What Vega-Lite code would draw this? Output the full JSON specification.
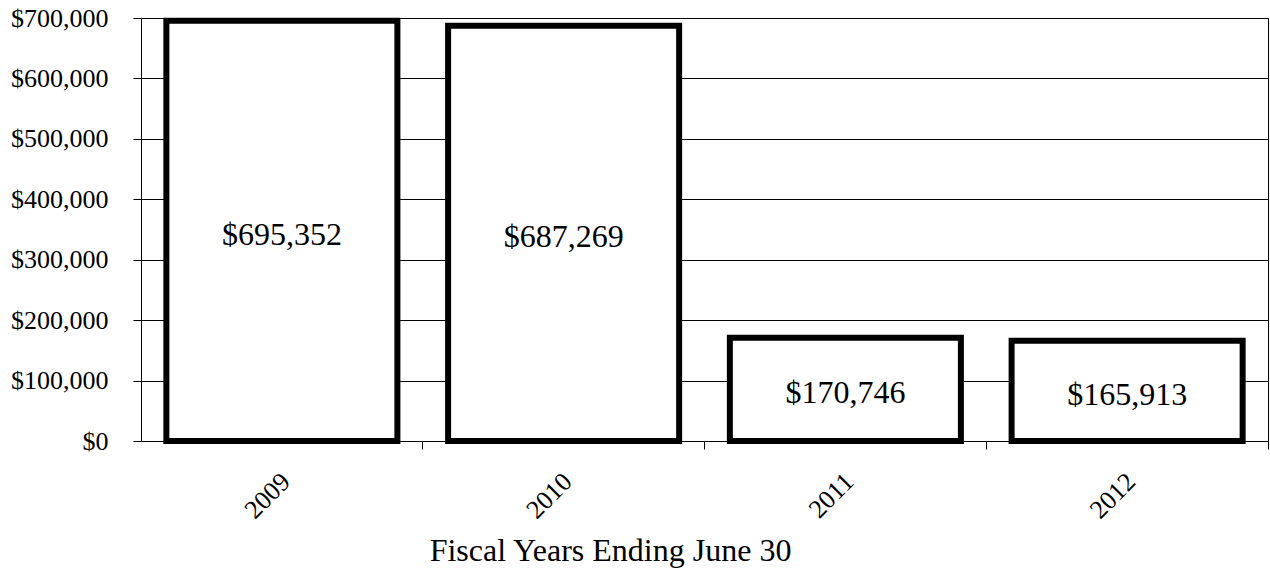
{
  "$schema": "https://vega.github.io/schema/vega-lite/v6.json",
  "autosize": {"type": "none"},
  "width": 1127,
  "height": 423,
  "padding": {"left": 141, "top": 18, "right": 2, "bottom": 137},
  "background": "white",
  "config": {
    "view": {"stroke": "black", "strokeWidth": 1},
    "font": "Liberation Serif"
  },
  "data": {
    "values": [
      {"year": "2009", "amount": 695352},
      {"year": "2010", "amount": 687269},
      {"year": "2011", "amount": 170746},
      {"year": "2012", "amount": 165913}
    ]
  },
  "transform": [{"calculate": "datum.amount / 2", "as": "mid"}],
  "resolve": {"axis": {"x": "independent"}},
  "layer": [
    {
      "mark": {"type": "bar", "fill": "white", "stroke": "black", "strokeWidth": 6, "strokeJoin": "miter"},
      "encoding": {
        "x": {
          "field": "year", "type": "ordinal",
          "scale": {"paddingInner": 0.18, "paddingOuter": 0.09},
          "axis": {
            "orient": "bottom",
            "title": "Fiscal Years Ending June 30",
            "titleFont": "Liberation Serif", "titleFontSize": 32, "titleFontWeight": "normal", "titleColor": "black",
            "titleX": 469, "titleY": 119, "titleBaseline": "alphabetic", "titleAnchor": "middle", "titleAlign": "center",
            "labelAngle": -45, "labelFont": "Liberation Serif", "labelFontSize": 26, "labelColor": "black",
            "labelPadding": 27, "labelOffset": -5,
            "ticks": false, "domain": false, "grid": false
          }
        },
        "y": {
          "field": "amount", "type": "quantitative",
          "scale": {"domain": [0, 700000], "nice": false},
          "axis": {
            "title": null,
            "values": [0, 100000, 200000, 300000, 400000, 500000, 600000, 700000],
            "format": "$,.0f",
            "labelFont": "Liberation Serif", "labelFontSize": 26, "labelColor": "black",
            "labelPadding": 25, "tickSize": 8, "tickColor": "black", "domainColor": "black",
            "grid": true, "gridColor": "black", "gridOpacity": 1, "gridWidth": 1
          }
        }
      }
    },
    {
      "mark": {"type": "text", "font": "Liberation Serif", "fontSize": 32, "color": "black", "baseline": "middle", "align": "center", "dy": 4},
      "encoding": {
        "x": {
          "field": "year", "type": "ordinal",
          "axis": {
            "orient": "bottom",
            "title": null, "labels": false, "grid": false, "domain": true, "domainColor": "black",
            "ticks": true, "tickSize": 8, "tickColor": "black", "bandPosition": 1.11
          }
        },
        "y": {"field": "mid", "type": "quantitative"},
        "text": {"field": "amount", "type": "quantitative", "format": "$,.0f"}
      }
    }
  ]
}
